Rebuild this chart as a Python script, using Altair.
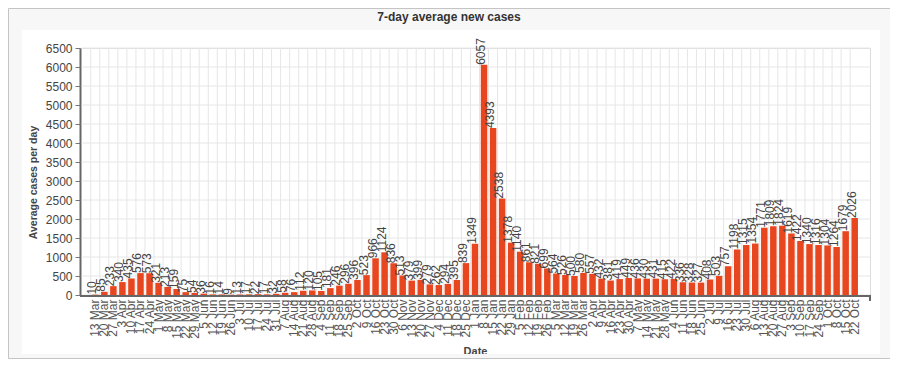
import altair as alt
import pandas as pd

dates = ["13 Mar","20 Mar","27 Mar","3 Apr","10 Apr","17 Apr","24 Apr","1 May","8 May","15 May",
         "22 May","29 May","5 Jun","12 Jun","19 Jun","26 Jun","3 Jul","10 Jul","17 Jul","24 Jul",
         "31 Jul","7 Aug","14 Aug","21 Aug","28 Aug","4 Sep","11 Sep","18 Sep","25 Sep","2 Oct",
         "9 Oct","16 Oct","23 Oct","30 Oct","6 Nov","13 Nov","20 Nov","27 Nov","4 Dec","11 Dec",
         "18 Dec","25 Dec","1 Jan","8 Jan","15 Jan","22 Jan","29 Jan","5 Feb","12 Feb","19 Feb",
         "26 Feb","5 Mar","12 Mar","19 Mar","26 Mar","2 Apr","9 Apr","16 Apr","23 Apr","30 Apr",
         "7 May","14 May","21 May","28 May","4 Jun","11 Jun","18 Jun","25 Jun","2 Jul","9 Jul",
         "16 Jul","23 Jul","30 Jul","6 Aug","13 Aug","20 Aug","27 Aug","3 Sep","10 Sep","17 Sep",
         "24 Sep","1 Oct","8 Oct","15 Oct","22 Oct"]

cases = [10,85,233,340,435,576,573,321,213,159,
         75,54,36,16,14,9,13,17,22,17,
         32,58,76,112,120,105,181,246,296,396,
         523,966,1124,836,513,379,399,279,262,294,
         395,839,1349,6057,4393,2538,1378,1140,861,821,
         699,564,526,500,580,557,432,381,419,449,
         436,430,431,415,422,336,328,327,408,503,
         757,1198,1315,1354,1771,1809,1824,1619,1422,1340,
         1316,1304,1264,1679,2026]

y_ticks = list(range(0, 6501, 500))

title_text = "7-day average new cases"
y_title = "Average cases per day"
x_title = "Date"

df = pd.DataFrame({"date": dates, "cases": cases})
grid_df = pd.DataFrame({"cases": y_ticks})

FONT = "Liberation Sans"
W, H = 790, 247
BAR = "#e8461e"
GRID = "#e6e6e6"
FRAME_FILL = "#f7f7f7"

xscale = alt.Scale(paddingInner=0.28, paddingOuter=1, range=[3, 787])
yscale = alt.Scale(domain=[0, 6500], nice=False)

one = alt.Data(values=[{}])

x_axis = alt.Axis(labelAngle=270, ticks=False, grid=False, domain=False,
                  labelColor="#555", labelFontSize=12, labelPadding=4, labelOverlap=False,
                  labelFont=FONT, title=x_title, titleFont=FONT, titleFontSize=11,
                  titleFontWeight="bold", titleColor="#444", titleX=395, titleY=56,
                  titleBaseline="middle", titleAlign="center")
y_axis = alt.Axis(values=y_ticks, format="d", grid=False, tickSize=5, tickColor="#777",
                  domainColor="#666", domainWidth=2, labelColor="#444", labelFontSize=12,
                  labelPadding=3, labelFont=FONT,
                  title=y_title, titleFont=FONT, titleFontSize=10.5, titleFontWeight="bold",
                  titleColor="#444", titleX=-47, titleY=134, titleAngle=270, titleAlign="center",
                  titleBaseline="middle")

X = alt.X("date:N", sort=dates, scale=xscale, axis=x_axis)
Y = alt.Y("cases:Q", scale=yscale, axis=y_axis)


def strip(x1, x2, y1, y2):
    return alt.Chart(one).mark_rect(fill=FRAME_FILL).encode(
        x=alt.value(x1), x2=alt.value(x2), y=alt.value(y1), y2=alt.value(y2))


strips = [
    strip(-72, 813, -40, -18),
    strip(-72, -58, -18, 306),
    strip(800, 813, -18, 306),
    strip(-72, 813, 306, 311),
]
border = alt.Chart(one).mark_rect(fillOpacity=0, stroke="#c4c4c4", strokeWidth=1).encode(
    x=alt.value(-71.5), x2=alt.value(812.5), y=alt.value(-39.5), y2=alt.value(310.5))

ygrid = alt.Chart(grid_df).mark_rule(color=GRID, strokeWidth=1).encode(
    y=Y, x=alt.value(1.5), x2=alt.value(790))
xgrid = alt.Chart(df).mark_rule(color=GRID, strokeWidth=1, xOffset=-1.3).encode(
    x=alt.X("date:N", sort=dates, scale=xscale, bandPosition=0, axis=x_axis))

bars = alt.Chart(df).mark_bar(color=BAR).encode(x=X, y=Y)

labels = alt.Chart(df).mark_text(angle=270, align="left", baseline="middle", dy=-3,
                                 fontSize=12, font=FONT, color="#444").encode(
    x=X, y=Y, text=alt.Text("cases:Q", format="d"))

title = alt.Chart(one).mark_text(text=title_text, font=FONT, fontSize=12, fontWeight="bold",
                                 color="#333", align="center", baseline="middle").encode(
    x=alt.value(369), y=alt.value(-31))

xdomain = alt.Chart(one).mark_rule(color="#666", strokeWidth=2).encode(
    x=alt.value(0), x2=alt.value(790), y=alt.value(248))
endtick = alt.Chart(one).mark_rule(color="#666", strokeWidth=2).encode(
    x=alt.value(790), y=alt.value(247), y2=alt.value(253))

chart = alt.layer(*strips, border, ygrid, xgrid, bars, labels, title, xdomain, endtick).properties(
    width=W, height=H,
    padding={"left": 72, "top": 40, "right": 20, "bottom": 64},
    autosize=alt.AutoSizeParams(type="none"),
).configure_view(stroke=None).configure(font=FONT)

chart.save("out.html", embed_options={"renderer": "svg", "actions": False})
